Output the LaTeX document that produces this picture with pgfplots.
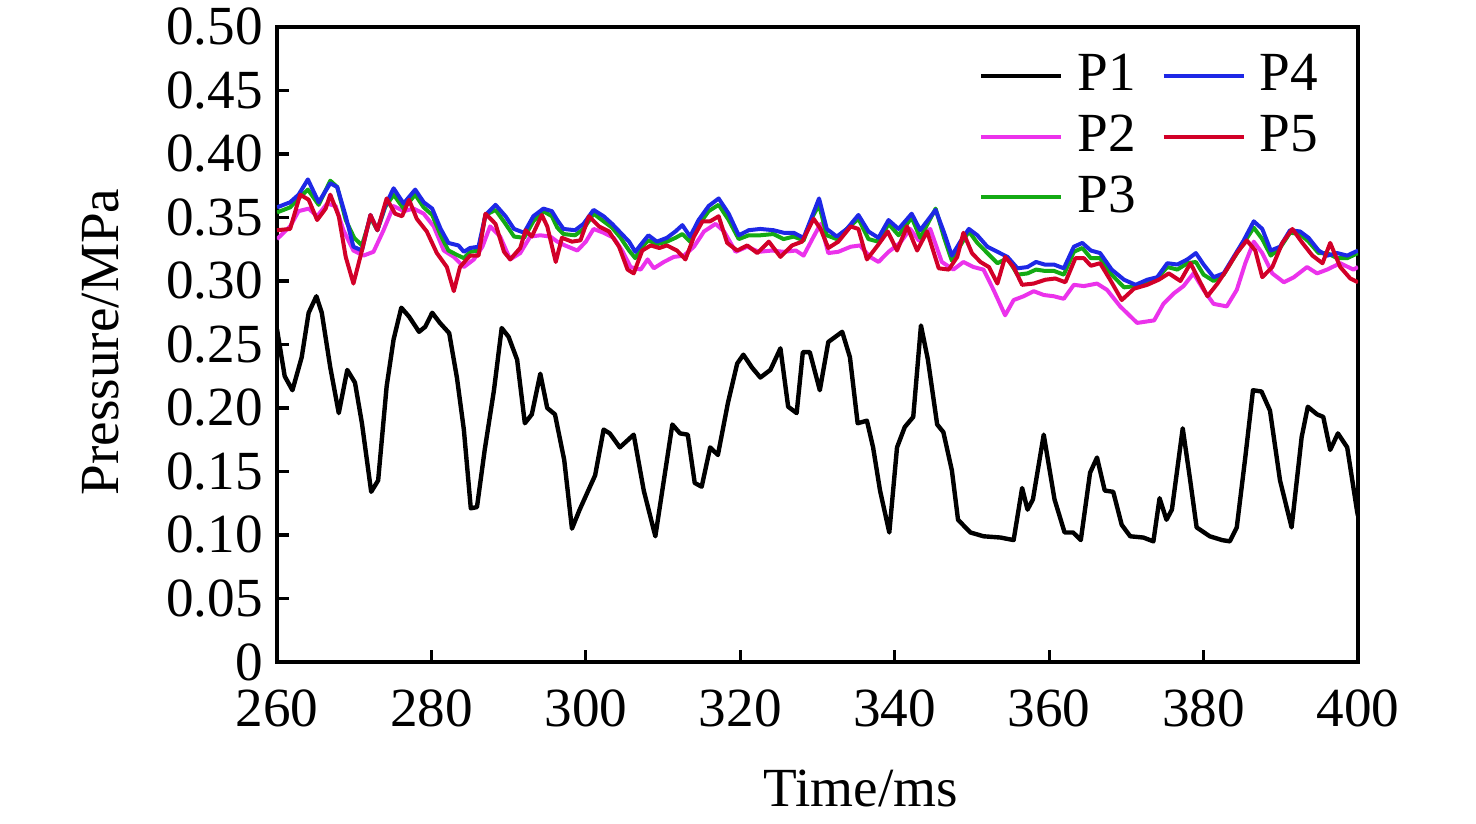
\documentclass[border=0pt]{standalone}
\usepackage{fontspec}
\setmainfont{Liberation Serif}
\usepackage{pgfplots}
\pgfplotsset{compat=1.18}
\newcommand\lf{\fontsize{13.8bp}{16bp}\selectfont}
\definecolor{cP2}{RGB}{235,50,235}
\definecolor{cP3}{RGB}{20,170,20}
\definecolor{cP4}{RGB}{30,40,230}
\definecolor{cP5}{RGB}{210,0,40}
\begin{document}
\begin{tikzpicture}
\path[use as bounding box] (-69.25bp,-40.5bp) rectangle (299.75bp,165.5bp);
\begin{axis}[
  at={(0,0)}, anchor=south west,
  scale only axis, width=270.25bp, height=158.75bp,
  xmin=260, xmax=400, ymin=0, ymax=0.5,
  xtick={260,280,300,320,340,360,380,400},
  ytick={0,0.05,0.1,0.15,0.2,0.25,0.3,0.35,0.4,0.45,0.5},
  yticklabels={0,0.05,0.10,0.15,0.20,0.25,0.30,0.35,0.40,0.45,0.50},
  tick align=inside, tick pos=left,
  major tick length=3bp,
  axis line style={line width=0.8bp},
  every tick/.style={black, line width=0.8bp},
  /pgf/number format/assume math mode=true,
  tick label style={font=\lf},
  xticklabel style={yshift=-3.5bp},
  label style={font=\lf},
  xlabel={Time/ms}, ylabel={Pressure/MPa},
  xlabel style={at={(axis description cs:0.540,0)}, anchor=base, yshift=-36bp},
  ylabel style={at={(axis description cs:-0.1462,0.504)}, anchor=base},
  legend columns=2,
  legend style={draw=none, fill=none, at={(axis description cs:0.638,0.983)}, anchor=north west,
    font=\lf, row sep=0.6bp,
    /tikz/every even column/.append style={column sep=4.5bp},
    /tikz/every odd column/.append style={column sep=1.5bp}},
  legend image code/.code={\draw[#1, line width=1bp] (0bp,0bp) -- (20bp,0bp);},
  every axis plot/.append style={line join=round},
]
\addplot[black, line width=1.1bp, forget plot] coordinates {
(260.0,0.262) (261.0,0.225) (262.0,0.214) (263.2,0.240) (264.1,0.275) (265.1,0.288) (265.8,0.275)
(266.9,0.232) (268.0,0.196) (269.1,0.230) (270.1,0.220) (271.0,0.188) (272.2,0.134) (273.1,0.143)
(274.2,0.217) (275.1,0.254) (276.1,0.279) (277.1,0.272) (278.4,0.260) (279.2,0.264) (280.1,0.275)
(281.1,0.267) (282.3,0.259) (283.3,0.224) (284.2,0.183) (285.1,0.121) (285.9,0.122) (286.9,0.167)
(288.1,0.214) (289.1,0.263) (290.0,0.256) (291.1,0.238) (292.1,0.188) (293.0,0.195) (294.1,0.227)
(295.0,0.200) (296.0,0.195) (297.2,0.159) (298.2,0.105) (299.2,0.120) (301.2,0.147) (302.3,0.183)
(303.1,0.180) (304.4,0.169) (306.2,0.179) (307.5,0.135) (309.0,0.099) (311.2,0.187) (312.2,0.180)
(313.2,0.179) (314.1,0.141) (315.0,0.138) (316.1,0.169) (317.1,0.163) (318.4,0.204) (319.6,0.235)
(320.4,0.242) (321.5,0.232) (322.6,0.224) (323.9,0.230) (325.2,0.247) (326.2,0.201) (327.3,0.196)
(328.1,0.244) (329.0,0.244) (330.3,0.214) (331.4,0.252) (333.2,0.260) (334.2,0.240) (335.2,0.188)
(336.4,0.190) (337.2,0.169) (338.1,0.135) (339.3,0.102) (340.3,0.169) (341.3,0.185) (342.4,0.193)
(343.4,0.265) (344.3,0.238) (345.5,0.187) (346.3,0.181) (347.4,0.151) (348.2,0.112) (349.8,0.102)
(351.5,0.099) (353.7,0.098) (355.4,0.096) (356.5,0.137) (357.2,0.120) (357.9,0.128) (359.3,0.179)
(360.7,0.128) (362.0,0.102) (363.1,0.102) (364.1,0.096) (365.3,0.149) (366.2,0.161) (367.2,0.135)
(368.3,0.134) (369.4,0.108) (370.5,0.099) (372.2,0.098) (373.5,0.095) (374.3,0.129) (375.2,0.112)
(375.9,0.120) (377.3,0.184) (378.2,0.146) (379.1,0.106) (380.8,0.099) (382.4,0.096) (383.4,0.095)
(384.3,0.106) (385.4,0.161) (386.4,0.214) (387.5,0.213) (388.6,0.198) (389.9,0.143) (391.4,0.106)
(392.7,0.177) (393.5,0.201) (394.7,0.195) (395.5,0.193) (396.4,0.167) (397.4,0.180) (398.6,0.169)
(399.9,0.118) (400.0,0.115)
};
\addplot[cP2, line width=1bp, forget plot] coordinates {
(260.0,0.333) (261.7,0.343) (262.8,0.355) (264.1,0.357) (265.2,0.351) (266.5,0.361) (267.6,0.359)
(268.6,0.340) (269.9,0.324) (271.2,0.320) (272.5,0.323) (273.8,0.340) (275.1,0.359) (276.4,0.355)
(277.7,0.357) (279.0,0.353) (280.3,0.343) (281.6,0.324) (282.9,0.319) (284.2,0.311) (285.5,0.317)
(286.6,0.327) (287.6,0.343) (288.9,0.335) (290.2,0.317) (291.5,0.322) (292.8,0.335) (294.1,0.336)
(295.4,0.335) (296.3,0.331) (297.3,0.328) (298.9,0.324) (300.0,0.331) (301.0,0.341) (302.3,0.338)
(303.6,0.334) (304.7,0.324) (305.8,0.311) (307.1,0.309) (308.0,0.317) (308.8,0.310) (310.1,0.315)
(311.4,0.319) (312.7,0.320) (314.0,0.327) (315.3,0.339) (316.8,0.345) (317.9,0.339) (319.4,0.323)
(320.9,0.327) (322.4,0.323) (324.1,0.324) (325.6,0.323) (327.2,0.324) (328.2,0.320) (329.5,0.335)
(330.4,0.345) (331.4,0.322) (332.7,0.323) (334.3,0.327) (335.5,0.328) (336.8,0.319) (337.9,0.315)
(339.2,0.323) (340.7,0.330) (342.0,0.341) (343.1,0.332) (344.6,0.341) (346.1,0.315) (347.6,0.309)
(348.9,0.315) (350.2,0.311) (351.5,0.309) (352.8,0.293) (354.3,0.273) (355.4,0.285) (356.7,0.288)
(358.0,0.292) (359.3,0.289) (360.6,0.288) (361.9,0.286) (363.2,0.297) (364.5,0.296) (366.2,0.298)
(367.5,0.293) (369.2,0.280) (371.4,0.267) (373.6,0.269) (374.8,0.282) (376.1,0.290) (377.4,0.296)
(378.7,0.306) (380.0,0.293) (381.3,0.282) (383.0,0.280) (384.3,0.293) (385.4,0.314) (386.5,0.331)
(387.6,0.322) (388.9,0.306) (390.4,0.299) (391.7,0.303) (393.4,0.311) (394.7,0.306) (396.0,0.309)
(397.7,0.314) (399.4,0.309) (400.0,0.311)
};
\addplot[cP3, line width=1bp, forget plot] coordinates {
(260.0,0.354) (261.7,0.358) (262.8,0.365) (264.0,0.372) (265.4,0.360) (266.9,0.379) (267.8,0.374)
(268.9,0.348) (270.0,0.334) (271.0,0.328) (272.1,0.350) (273.0,0.340) (274.0,0.358) (275.1,0.368)
(276.4,0.357) (277.9,0.368) (279.0,0.358) (280.1,0.352) (281.2,0.336) (282.2,0.324) (283.5,0.320)
(284.2,0.318) (285.0,0.323) (286.1,0.324) (287.0,0.352) (288.3,0.356) (289.6,0.345) (290.7,0.335)
(292.0,0.334) (293.2,0.347) (294.5,0.355) (295.6,0.351) (296.3,0.342) (297.1,0.337) (298.6,0.336)
(299.7,0.341) (301.0,0.353) (302.3,0.347) (303.4,0.342) (304.5,0.334) (305.6,0.324) (306.4,0.318)
(307.3,0.327) (308.1,0.332) (309.2,0.329) (310.5,0.331) (311.6,0.334) (312.5,0.337) (313.5,0.331)
(314.6,0.344) (315.9,0.355) (317.2,0.360) (318.5,0.348) (319.8,0.333) (321.1,0.336) (322.6,0.336)
(324.3,0.337) (325.6,0.333) (326.9,0.335) (328.2,0.332) (329.3,0.350) (330.2,0.360) (331.2,0.336)
(332.5,0.333) (333.8,0.341) (335.3,0.349) (336.6,0.333) (337.9,0.331) (339.2,0.345) (340.5,0.336)
(342.2,0.350) (343.3,0.334) (345.3,0.357) (346.4,0.334) (347.4,0.316) (348.5,0.328) (349.6,0.339)
(350.7,0.330) (352.0,0.322) (353.3,0.314) (354.6,0.318) (355.9,0.305) (357.2,0.306) (358.3,0.309)
(359.4,0.308) (360.6,0.308) (361.9,0.305) (363.2,0.323) (364.3,0.326) (365.4,0.318) (366.6,0.318)
(368.1,0.305) (369.7,0.295) (371.2,0.296) (372.7,0.299) (374.0,0.302) (375.3,0.311) (376.6,0.309)
(377.9,0.314) (379.0,0.315) (380.0,0.305) (381.3,0.300) (382.6,0.305) (383.9,0.318) (385.2,0.330)
(386.5,0.342) (387.6,0.333) (388.7,0.320) (389.9,0.326) (391.2,0.338) (392.5,0.337) (393.6,0.331)
(394.9,0.322) (396.0,0.322) (397.3,0.318) (398.6,0.318) (400.0,0.322)
};
\addplot[cP4, line width=1bp, forget plot] coordinates {
(260.0,0.358) (261.7,0.362) (262.8,0.368) (264.0,0.380) (265.4,0.362) (266.9,0.377) (267.8,0.374)
(268.9,0.351) (269.9,0.327) (271.0,0.324) (272.1,0.352) (273.0,0.340) (274.0,0.359) (275.1,0.373)
(276.4,0.361) (277.9,0.372) (279.0,0.362) (280.1,0.357) (281.2,0.341) (282.2,0.330) (283.5,0.328)
(284.2,0.323) (285.0,0.326) (286.1,0.327) (287.0,0.352) (288.3,0.360) (289.6,0.351) (290.7,0.341)
(292.0,0.338) (293.2,0.351) (294.5,0.357) (295.6,0.355) (296.3,0.348) (297.1,0.341) (298.6,0.340)
(299.7,0.345) (301.0,0.356) (302.3,0.351) (303.4,0.345) (304.5,0.338) (305.6,0.331) (306.4,0.323)
(307.3,0.330) (308.1,0.336) (309.2,0.331) (310.5,0.334) (311.6,0.339) (312.5,0.344) (313.5,0.335)
(314.6,0.348) (315.9,0.359) (317.2,0.365) (318.5,0.353) (319.8,0.336) (321.1,0.340) (322.6,0.341)
(324.3,0.340) (325.6,0.338) (326.9,0.338) (328.2,0.334) (329.3,0.351) (330.2,0.365) (331.2,0.341)
(332.5,0.335) (333.8,0.341) (335.3,0.352) (336.6,0.339) (337.9,0.334) (339.2,0.348) (340.5,0.341)
(342.2,0.353) (343.3,0.340) (345.3,0.356) (346.4,0.338) (347.4,0.320) (348.5,0.331) (349.6,0.341)
(350.7,0.336) (352.0,0.327) (353.3,0.323) (354.6,0.319) (355.9,0.310) (357.2,0.311) (358.3,0.315)
(359.4,0.313) (360.6,0.313) (361.9,0.310) (363.2,0.327) (364.3,0.330) (365.4,0.324) (366.6,0.322)
(368.1,0.309) (369.7,0.301) (371.2,0.297) (372.7,0.301) (374.0,0.303) (375.3,0.314) (376.6,0.313)
(377.9,0.317) (379.0,0.322) (380.0,0.313) (381.3,0.303) (382.6,0.306) (383.9,0.319) (385.2,0.332)
(386.5,0.347) (387.6,0.341) (388.7,0.324) (389.9,0.327) (391.2,0.340) (392.5,0.339) (393.6,0.334)
(394.9,0.324) (396.0,0.320) (397.3,0.322) (398.6,0.320) (400.0,0.324)
};
\addplot[cP5, line width=1bp, forget plot] coordinates {
(260.0,0.340) (261.7,0.341) (263.0,0.368) (264.1,0.364) (265.2,0.348) (266.3,0.357) (266.9,0.368)
(268.0,0.351) (268.9,0.319) (269.9,0.298) (271.0,0.324) (272.1,0.352) (273.0,0.340) (274.2,0.365)
(275.3,0.353) (276.2,0.351) (277.1,0.364) (278.1,0.349) (279.4,0.339) (280.7,0.322) (282.0,0.311)
(282.9,0.292) (283.7,0.311) (285.0,0.320) (286.1,0.320) (287.0,0.353) (288.3,0.345) (289.4,0.323)
(290.2,0.317) (291.5,0.326) (292.2,0.340) (293.0,0.335) (294.3,0.352) (295.0,0.343) (296.1,0.315)
(296.9,0.334) (298.2,0.331) (299.3,0.332) (300.4,0.351) (301.7,0.343) (303.0,0.339) (304.3,0.327)
(305.4,0.309) (306.2,0.306) (307.3,0.324) (308.4,0.328) (309.5,0.326) (310.5,0.328) (311.8,0.324)
(312.9,0.317) (314.0,0.335) (315.1,0.347) (316.1,0.347) (317.2,0.351) (318.3,0.330) (319.6,0.324)
(320.9,0.328) (322.2,0.322) (323.7,0.331) (325.2,0.319) (326.7,0.328) (328.0,0.331) (329.5,0.349)
(330.4,0.341) (331.4,0.326) (332.7,0.331) (334.3,0.343) (335.3,0.341) (336.4,0.317) (337.8,0.328)
(339.1,0.339) (340.3,0.324) (341.6,0.343) (342.9,0.324) (344.2,0.339) (345.7,0.310) (347.0,0.309)
(348.1,0.319) (348.9,0.338) (350.0,0.322) (351.1,0.315) (352.2,0.311) (353.3,0.298) (354.3,0.319)
(355.4,0.311) (356.5,0.297) (358.0,0.298) (359.5,0.301) (360.8,0.302) (362.1,0.299) (363.4,0.318)
(364.5,0.318) (365.4,0.312) (366.6,0.314) (367.9,0.301) (369.4,0.285) (371.0,0.294) (372.7,0.297)
(374.2,0.301) (375.5,0.306) (377.0,0.300) (378.3,0.314) (379.4,0.301) (380.5,0.288) (381.8,0.298)
(383.0,0.309) (384.3,0.322) (385.6,0.332) (386.7,0.324) (387.6,0.303) (388.9,0.311) (390.2,0.330)
(391.5,0.341) (392.8,0.330) (394.1,0.320) (395.4,0.314) (396.4,0.330) (397.7,0.311) (399.0,0.302)
(400.0,0.299)
};
\addlegendimage{black}\addlegendentry{P1}
\addlegendimage{cP4}\addlegendentry{P4}
\addlegendimage{cP2}\addlegendentry{P2}
\addlegendimage{cP5}\addlegendentry{P5}
\addlegendimage{cP3}\addlegendentry{P3}
\end{axis}
\end{tikzpicture}
\end{document}
